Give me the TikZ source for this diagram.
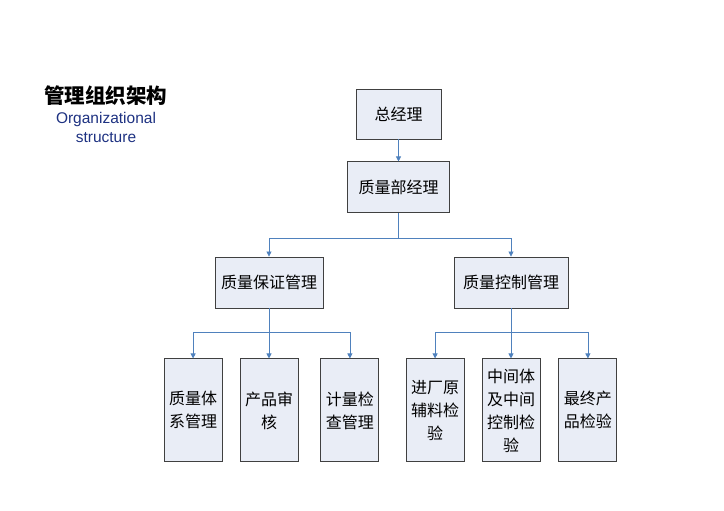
\documentclass[tikz,border=0pt]{standalone}
\usepackage{fontspec}
\setmainfont{Liberation Sans}
\newfontfamily\cjk{Noto Sans CJK SC}
\usetikzlibrary{positioning,arrows.meta,calc}
\definecolor{LinkBlue}{RGB}{79,129,189}
\definecolor{BoxFill}{RGB}{233,237,246}
\definecolor{BoxLine}{RGB}{64,64,64}
\definecolor{TitleBlue}{RGB}{30,50,130}
\tikzset{
  flow/.style={-{Triangle[length=5pt,width=5pt]},line width=0.8pt,draw=LinkBlue},
  link/.style={line width=0.8pt,draw=LinkBlue},
  box/.style={draw=BoxLine,fill=BoxFill,line width=0.9pt,align=center,
    font=\cjk\fontsize{16}{23}\selectfont,inner sep=2pt},
  widebox/.style={box,minimum height=51pt},
  tallbox/.style={box,minimum width=58pt,minimum height=103pt,text width=50pt}
}

\begin{document}
\begin{tikzpicture}[x=1pt,y=1pt]
  \useasboundingbox[fill=white] (0,0) rectangle (724,-511);
  % title
  \node[font=\cjk\bfseries\fontsize{20.5}{22}\selectfont,inner sep=1pt] (title) at (106,-96) {管理组织架构};
  \node[font=\fontsize{15.5}{19}\selectfont,text=TitleBlue,align=center,below=2pt of title] (subtitle) {Organizational\\structure};
  % top levels
  \node[widebox,minimum width=85pt,minimum height=50pt] (boss) at (398.5,-114) {总经理};
  \node[widebox,minimum width=102pt,below=22pt of boss] (qmgr) {质量部经理};
  \node[widebox,minimum width=108pt] (assure) at (269,-282.5) {质量保证管理};
  \node[widebox,minimum width=114pt] (control) at (511,-282.5) {质量控制管理};
  % bottom row, left branch
  \node[tallbox,below=50pt of assure] (audit) {产品审\\核};
  \node[tallbox,left=17pt of audit] (system) {质量体\\系管理};
  \node[tallbox,right=22pt of audit] (meter) {计量检\\查管理};
  % bottom row, right branch
  \node[tallbox,below=50pt of control] (process) {中间体\\及中间\\控制检\\验};
  \node[tallbox,left=17pt of process] (incoming) {进厂原\\辅料检\\验};
  \node[tallbox,right=18pt of process] (final) {最终产\\品检验};
  % connectors
  \draw[flow] (boss) -- (qmgr);
  \coordinate (split) at ($(qmgr.south)+(0,-25)$);
  \draw[link] (qmgr.south) -- (split);
  \draw[flow] (split) -| (assure.north);
  \draw[flow] (split) -| (control.north);
  \coordinate (splitl) at ($(assure.south)+(0,-24)$);
  \draw[link] (assure.south) -- (splitl);
  \draw[flow] (splitl) -| (system.north);
  \draw[flow] (splitl) -- (audit.north);
  \draw[flow] (splitl) -| (meter.north);
  \coordinate (splitr) at ($(control.south)+(0,-24)$);
  \draw[link] (control.south) -- (splitr);
  \draw[flow] (splitr) -| (incoming.north);
  \draw[flow] (splitr) -- (process.north);
  \draw[flow] (splitr) -| (final.north);
\end{tikzpicture}
\end{document}
